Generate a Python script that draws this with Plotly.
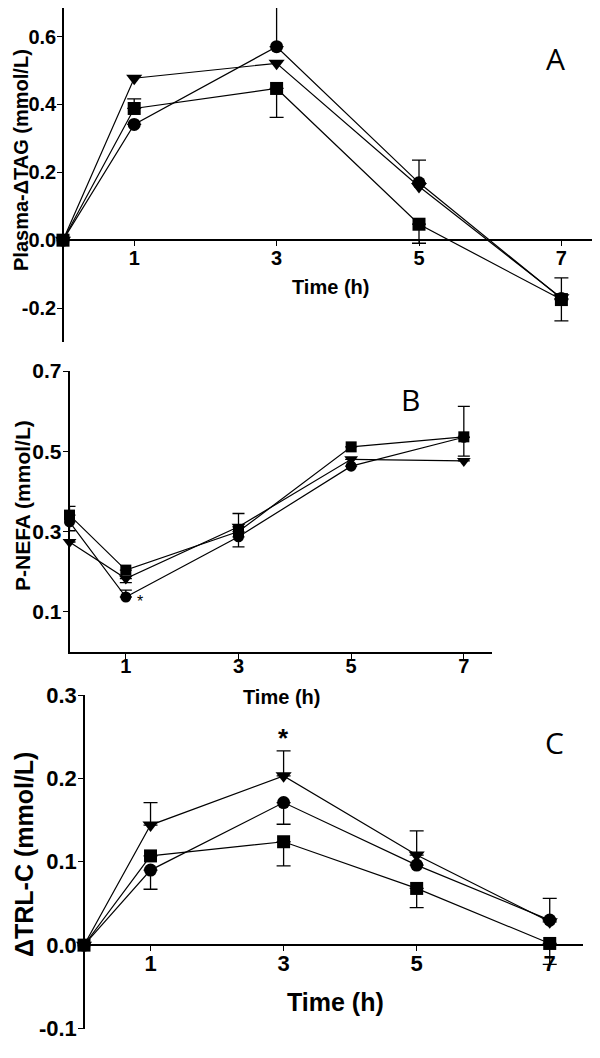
import plotly.graph_objects as go

# the page puts the figure 8px in from the top-left corner
OFF = 8
W, H = 600 - OFF, 1058 - OFF

# ---- data ----
time = [0, 1, 3, 5, 7]

# panel A: plasma delta TAG
a_circle = [0, 0.341, 0.570, 0.169, -0.172]
a_triangle = [0, 0.477, 0.521, 0.158, -0.170]
a_square = [0, 0.388, 0.447, 0.047, -0.175]
a_circle_up = [None, None, 0.118, 0.067, 0.061]
a_square_up = [None, 0.028, None, None, None]
a_square_dn = [None, None, 0.085, 0.056, 0.063]

# panel B: P-NEFA
b_circle = [0.324, 0.137, 0.287, 0.463, 0.535]
b_triangle = [0.274, 0.183, 0.312, 0.480, 0.476]
b_square = [0.341, 0.204, 0.300, 0.511, 0.536]
b_circle_up = [None, 0.017, None, None, None]
b_circle_dn = [0.022, None, 0.025, None, None]
b_triangle_up = [None, None, 0.033, None, None]
b_triangle_dn = [None, 0.010, None, None, None]
b_square_up = [0.022, None, None, None, 0.076]
b_square_dn = [None, None, None, None, 0.048]

# panel C: delta TRL-C
c_circle = [0, 0.090, 0.171, 0.096, 0.030]
c_triangle = [0, 0.144, 0.203, 0.108, 0.028]
c_square = [0, 0.107, 0.124, 0.068, 0.002]
c_circle_up = [None, None, None, None, 0.026]
c_circle_dn = [None, 0.023, 0.026, None, None]
c_triangle_up = [None, 0.027, 0.030, 0.029, None]
c_square_dn = [None, None, 0.029, 0.023, 0.025]

x_ticks = [1, 3, 5, 7]
a_yticks = [-0.2, 0.0, 0.2, 0.4, 0.6]
b_yticks = [0.1, 0.3, 0.5, 0.7]
c_yticks = [-0.1, 0.0, 0.1, 0.2, 0.3]

FONT = "Liberation Sans, Arial, sans-serif"


def px_x(p):
    return (p - OFF) / W


def px_y(p):
    return 1 - (p - OFF) / H


def tick_text(vals):
    # plain hyphen for negatives, as in the original
    return ["%.1f" % v for v in vals]


def err(up, dn, width):
    if up is None and dn is None:
        return None
    up = up if up is not None else [None] * 5
    dn = dn if dn is not None else [None] * 5
    return dict(type="data", symmetric=False, array=up, arrayminus=dn,
                color="black", thickness=1.3, width=width)


fig = go.Figure()


def add_series(xa, ya, vals, symbol, size, up=None, dn=None, cap=7):
    fig.add_trace(go.Scatter(
        x=time, y=vals, xaxis=xa, yaxis=ya, mode="lines+markers",
        line=dict(color="black", width=1.2),
        marker=dict(symbol=symbol, size=size, color="black"),
        error_y=err(up, dn, cap), cliponaxis=False, showlegend=False))


# panel A
add_series("x", "y", a_triangle, "triangle-down", 14)
add_series("x", "y", a_circle, "circle", 13, a_circle_up, None)
add_series("x", "y", a_square, "square", 13, a_square_up, a_square_dn)

# panel B
add_series("x2", "y2", b_triangle, "triangle-down", 12, b_triangle_up, b_triangle_dn, 6)
add_series("x2", "y2", b_circle, "circle", 11, b_circle_up, b_circle_dn, 6)
add_series("x2", "y2", b_square, "square", 11, b_square_up, b_square_dn, 6)

# panel C
add_series("x3", "y3", c_triangle, "triangle-down", 14, c_triangle_up, None)
add_series("x3", "y3", c_circle, "circle", 13, c_circle_up, c_circle_dn)
add_series("x3", "y3", c_square, "square", 13, None, c_square_dn)

axis_common = dict(showgrid=False, zeroline=False, showline=True, automargin=False,
                   linecolor="black", linewidth=1.6, ticks="outside",
                   ticklen=5, tickwidth=1.3, tickcolor="black")


def tfont(size):
    return dict(family=FONT, size=size, weight="bold", color="black")


# axis positions (pixels in the 600x1058 window)
A = dict(x0=63, x1=597, y0=8, y1=342, zero=240, yr=[-0.3, 0.684])
B = dict(x0=69.5, x1=492, y0=371, y1=652, yr=[0, 0.7])
C = dict(x0=84, x1=583, y0=695, y1=1028.5, zero=945, yr=[-0.1, 0.3])

fig.update_layout(
    width=W, height=H, margin=dict(l=0, r=0, t=0, b=0, autoexpand=False),
    plot_bgcolor="white", paper_bgcolor="white",
    xaxis=dict(axis_common, domain=[px_x(A["x0"]), px_x(A["x1"])], range=[0, 7.5],
               anchor="free", position=px_y(A["zero"]), tickvals=x_ticks,
               tickfont=tfont(20), ticklabelstandoff=-5),
    yaxis=dict(axis_common, domain=[px_y(A["y1"]), px_y(A["y0"])], range=A["yr"],
               anchor="free", position=px_x(A["x0"]), ticklabelstandoff=-3,
               tickvals=a_yticks, ticktext=tick_text(a_yticks), tickfont=tfont(20)),
    xaxis2=dict(axis_common, domain=[px_x(B["x0"]), px_x(B["x1"])], range=[0, 7.5],
                anchor="y2", tickvals=x_ticks, tickfont=tfont(20), ticklabelstandoff=-10),
    yaxis2=dict(axis_common, domain=[px_y(B["y1"]), px_y(B["y0"])], range=B["yr"],
                anchor="x2", ticklabelstandoff=-3, tickvals=b_yticks,
                ticktext=tick_text(b_yticks), tickfont=tfont(21)),
    xaxis3=dict(axis_common, domain=[px_x(C["x0"]), px_x(C["x1"])], range=[0, 7.5],
                anchor="free", position=px_y(C["zero"]), tickvals=x_ticks,
                tickfont=tfont(22), ticklabelstandoff=-6),
    yaxis3=dict(axis_common, domain=[px_y(C["y1"]), px_y(C["y0"])], range=C["yr"],
                anchor="free", position=px_x(C["x0"]), ticklabelstandoff=-3,
                tickvals=c_yticks, ticktext=tick_text(c_yticks), tickfont=tfont(22)),
)


def label(text, x, y, size, angle=0, bold=True, family=FONT):
    fig.add_annotation(text=text, x=px_x(x), y=px_y(y), xref="paper", yref="paper",
                       showarrow=False, textangle=angle, xanchor="center", yanchor="middle",
                       font=dict(family=family, size=size, color="black",
                                 weight="bold" if bold else "normal"))


# axis titles
label("Plasma-ΔTAG (mmol/L)", 21, 160, 20, -90)
label("P-NEFA (mmol/L)", 22, 506, 21, -90)
label("ΔTRL-C (mmol/L)", 24, 855, 25, -90)
label("Time (h)", 330, 287, 20)
label("Time (h)", 281, 697, 20)
label("Time (h)", 335, 1002, 25)

# panel letters
label("A", 555, 58, 30, bold=False, family="Open Sans, sans-serif")
label("B", 410, 400, 30, bold=False, family="Open Sans, sans-serif")
label("C", 554, 742, 30, bold=False, family="Open Sans, sans-serif")

# significance marks
fig.add_annotation(text="*", x=1.25, y=0.125, xref="x2", yref="y2", showarrow=False,
                   font=dict(family=FONT, size=16, color="black"))
fig.add_annotation(text="*", x=3, y=0.248, xref="x3", yref="y3", showarrow=False,
                   font=dict(family=FONT, size=26, color="black", weight="bold"))

fig.write_html("out.html")
